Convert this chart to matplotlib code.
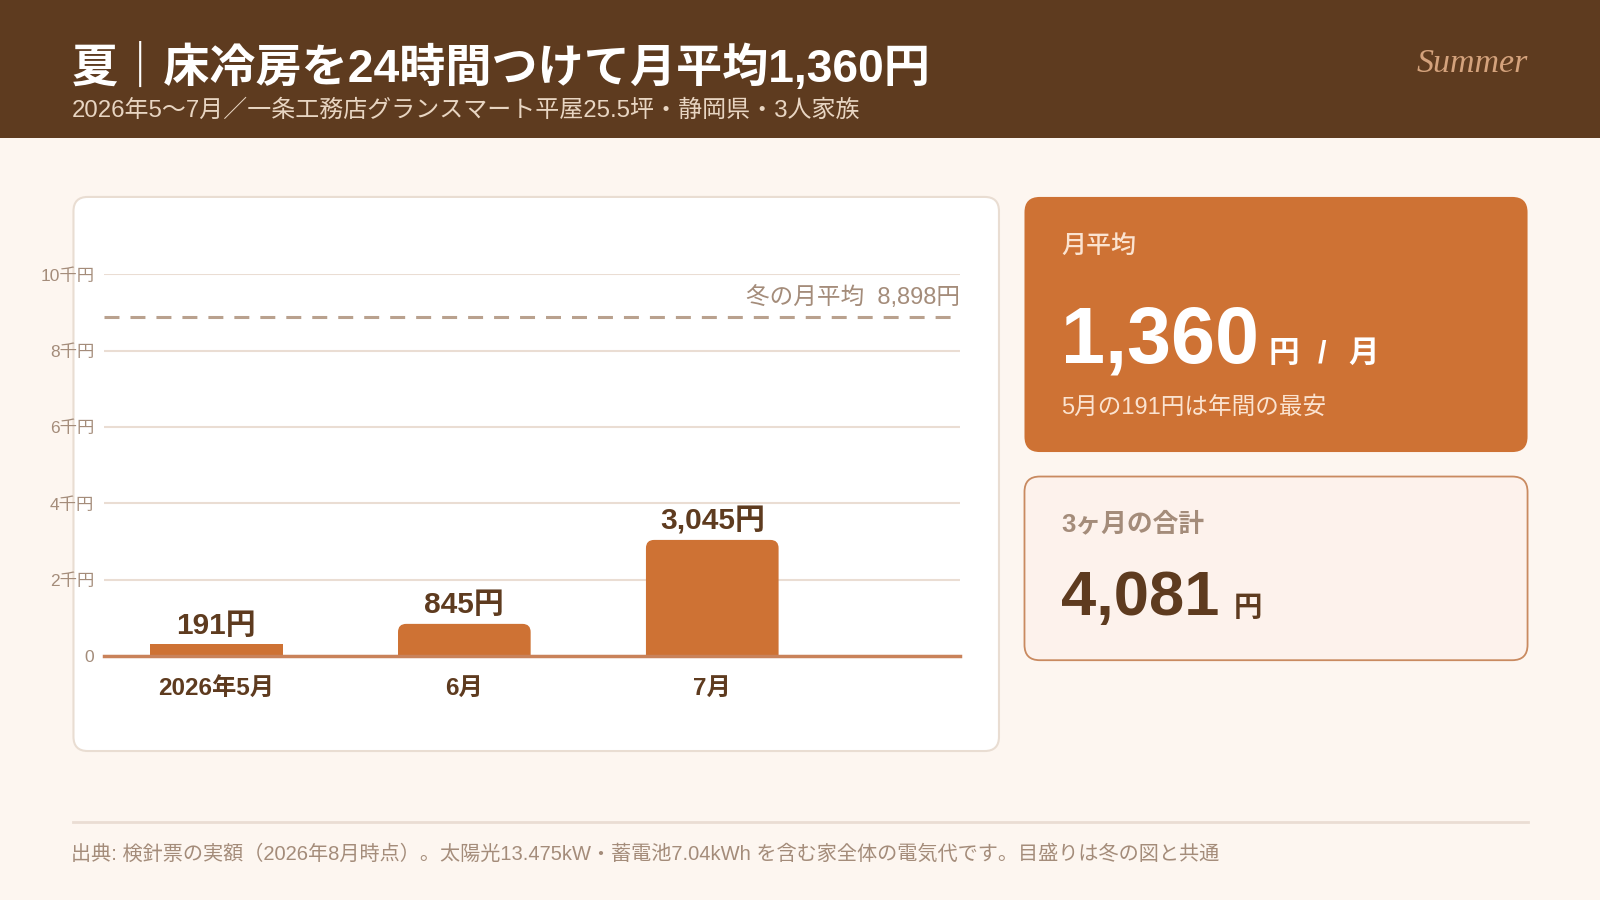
import matplotlib.pyplot as plt
from matplotlib.patches import FancyBboxPatch, Rectangle

plt.rcParams['font.family'] = ['Liberation Sans', 'Noto Sans CJK JP', 'DejaVu Sans']

# ---- data ----
months = ['2026年5月', '6月', '7月']
costs = [191, 845, 3045]
winter_avg = 8898
monthly_avg = 1360
total_3m = 4081
yticks = [0, 2000, 4000, 6000, 8000, 10000]
ytick_labels = ['0', '2千円', '4千円', '6千円', '8千円', '10千円']

title = '夏｜床冷房を24時間つけて月平均1,360円'
subtitle = '2026年5〜7月／一条工務店グランスマート平屋25.5坪・静岡県・3人家族'
footer = '出典: 検針票の実額（2026年8月時点）。太陽光13.475kW・蓄電池7.04kWh を含む家全体の電気代です。目盛りは冬の図と共通'

# ---- colours ----
BG = '#FDF6F0'
HEADER = '#5E3B1F'
ORANGE = '#CE7234'
DARK = '#5E3B1F'
MUTED = '#A48C7A'
GRID = '#EADDD3'
DASH = '#B9A18E'
LIGHT = '#FBE3D0'

W, H = 1568, 882   # layout grid (reference pixels)

fig = plt.figure(figsize=(16, 9), dpi=100)
fig.patch.set_facecolor(BG)

bg = fig.add_axes([0, 0, 1, 1])
bg.set_xlim(0, W)
bg.set_ylim(H, 0)
bg.axis('off')

# header band
bg.add_patch(Rectangle((0, 0), W, 135, color=HEADER, lw=0))
bg.text(70, 80, title, color='white', fontsize=33.2, fontweight='bold', va='baseline')
bg.text(70, 115, subtitle, color='#E8D5C2', fontsize=17.25, va='baseline')
bg.text(1497, 71, 'Summer', color='#D4A27C', fontsize=24.5, style='italic',
        family='Liberation Serif', ha='right', va='baseline')

# chart card
bg.add_patch(FancyBboxPatch((72, 193), 907, 543, boxstyle='round,pad=0,rounding_size=14',
                            fc='white', ec='#E9DDD2', lw=1.5))

# right cards
bg.add_patch(FancyBboxPatch((1004, 193), 493, 250, boxstyle='round,pad=0,rounding_size=15',
                            fc=ORANGE, ec='none'))
bg.text(1040, 249, '月平均', color=LIGHT, fontsize=18, fontweight='medium', va='baseline')
bg.text(1040, 355, f'{monthly_avg:,}', color='white', fontsize=57, fontweight='bold', va='baseline')
bg.text(1243, 355, '円', color='white', fontsize=22, fontweight='bold', va='baseline')
bg.text(1291, 355, '/', color='white', fontsize=22, fontweight='bold', va='baseline')
bg.text(1321, 355, '月', color='white', fontsize=22, fontweight='bold', va='baseline')
bg.text(1040, 406, f'5月の{costs[0]}円は年間の最安', color=LIGHT, fontsize=17, va='baseline')

bg.add_patch(FancyBboxPatch((1004, 467), 493, 180, boxstyle='round,pad=0,rounding_size=15',
                            fc='#FDF2EC', ec='#C98A60', lw=1.3))
bg.text(1040, 521, '3ヶ月の合計', color=MUTED, fontsize=18.5, fontweight='bold', va='baseline')
bg.text(1040, 603, f'{total_3m:,}', color=DARK, fontsize=45.5, fontweight='bold', va='baseline')
bg.text(1209, 604, '円', color=DARK, fontsize=20.5, fontweight='bold', va='baseline')

# footer
bg.plot([72, 1497], [806, 806], color=GRID, lw=2)
bg.text(70, 843, footer, color=MUTED, fontsize=14.5, va='baseline')

# ---- bar chart ----
ax_l, ax_r, ax_b, ax_t = 102, 941, 643, 269
ax = fig.add_axes([ax_l / W, 1 - ax_b / H, (ax_r - ax_l) / W, (ax_b - ax_t) / H])
ax.set_facecolor('none')
ax.set_xlim(-0.453, 3.0)
ax.set_ylim(0, 10000)
for s in ax.spines.values():
    s.set_visible(False)

ax.set_yticks(yticks)
ax.set_yticklabels(ytick_labels)
ax.tick_params(axis='y', length=0, pad=7, labelsize=12.5, labelcolor=MUTED)
ax.yaxis.grid(True, color=GRID, lw=1.5)
ax.set_axisbelow(True)

x = list(range(len(months)))
ax.set_xticks(x)
ax.set_xticklabels(months)
ax.tick_params(axis='x', length=0, pad=15, labelsize=17.5, labelcolor=DARK)
for lb in ax.get_xticklabels():
    lb.set_fontweight('bold')

# rounded-top bars (bottom corners pushed below the baseline and clipped)
px_x = (ax_r - ax_l) * 1600 / W / 3.453        # pixels per x unit
px_y = (ax_b - ax_t) * 900 / H / 10000         # pixels per y unit
aspect = px_x / px_y
bw = 0.535
r = 8 * 1600 / W / px_x
min_h = 11.5 * 900 / H / px_y                  # shortest drawn bar, like the source
for xi, v in zip(x, costs):
    h = max(v, min_h)
    if h > 2 * r * aspect:
        ax.add_patch(FancyBboxPatch((xi - bw / 2, -2 * r * aspect), bw, h + 2 * r * aspect,
                                    boxstyle=f'round,pad=0,rounding_size={r}',
                                    mutation_aspect=aspect, fc=ORANGE, ec='none', zorder=2))
    else:
        ax.add_patch(Rectangle((xi - bw / 2, 0), bw, h, fc=ORANGE, ec='none', zorder=2))
    ax.annotate(f'{v:,}円', (xi, h), xytext=(0, 7.5), textcoords='offset points',
                ha='center', va='baseline', fontsize=21.5, fontweight='bold', color=DARK)

ax.axhline(0, color='#C9825A', lw=2.5, zorder=3, clip_on=False)

# winter reference line
ax.axhline(winter_avg, color=DASH, lw=2.2, dashes=(4.9, 3.6), zorder=1.5)
ax.text(3.0, winter_avg + 320, f'冬の月平均  {winter_avg:,}円', ha='right', va='baseline',
        fontsize=17, color=MUTED)

fig.savefig('out.png', dpi=100, facecolor=BG)
